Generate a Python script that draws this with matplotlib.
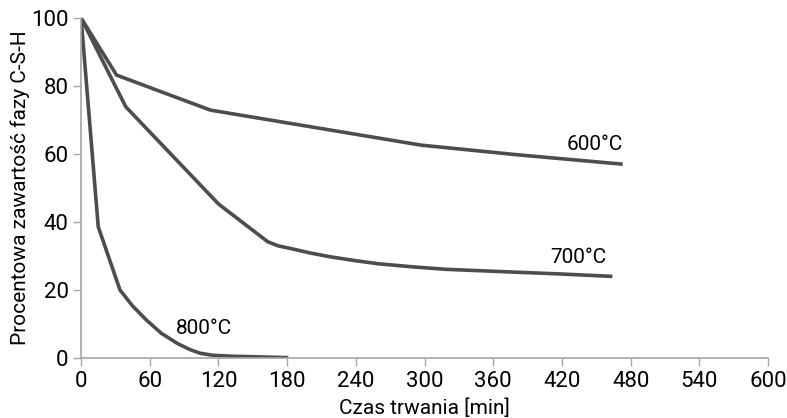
import matplotlib
matplotlib.use("Agg")
import matplotlib.pyplot as plt

plt.rcParams['font.family'] = ['Roboto', 'DejaVu Sans']

# 600°C
t600 = [0, 31, 113, 297, 380, 473]
c600 = [100, 83.2, 72.9, 62.6, 59.8, 57.0]

# 700°C
t700 = [0, 39, 120, 163, 172, 183, 200, 217, 240, 260, 290, 318, 368, 420, 464]
c700 = [100, 73.9, 45.3, 34.2, 33.0, 32.2, 30.9, 29.8, 28.6, 27.7, 26.8, 26.1, 25.4, 24.7, 24.0]

# 800°C
t800 = [0, 15, 34, 45, 57, 70, 84, 95, 104, 115, 130, 181]
c800 = [100, 38.6, 20.0, 15.3, 11.2, 7.3, 4.3, 2.5, 1.4, 0.8, 0.55, 0.1]

labels = ["600°C", "700°C", "800°C"]
xticks = [0, 60, 120, 180, 240, 300, 360, 420, 480, 540, 600]
yticks = [0, 20, 40, 60, 80, 100]

line_col = "#4d4d4d"
axis_col = "#a6a6a6"

fig = plt.figure(figsize=(7.87, 4.18), dpi=100)
ax = fig.add_axes([0.103, 0.1435, 0.873, 0.8135])

for t, c in [(t600, c600), (t700, c700), (t800, c800)]:
    ax.plot(t, c, color=line_col, lw=2.6, solid_joinstyle='round', solid_capstyle='butt')

ax.text(424, 61.2, labels[0], fontsize=15, ha='left', va='baseline')
ax.text(410, 27.9, labels[1], fontsize=15, ha='left', va='baseline')
ax.text(83, 7.2, labels[2], fontsize=15, ha='left', va='baseline')

ax.set_xlim(0, 600)
ax.set_ylim(0, 100)
ax.set_xticks(xticks)
ax.set_yticks(yticks)
ax.tick_params(labelsize=16, color=axis_col, length=6, width=1, pad=3)

for side in ['top', 'right']:
    ax.spines[side].set_visible(False)
for side in ['left', 'bottom']:
    ax.spines[side].set_color(axis_col)
    ax.spines[side].set_linewidth(1.2)

ax.set_xlabel("Czas trwania [min]", fontsize=15, labelpad=5)
ax.set_ylabel("Procentowa zawartość fazy C-S-H", fontsize=15, labelpad=1)

fig.savefig("out.png", dpi=100)
